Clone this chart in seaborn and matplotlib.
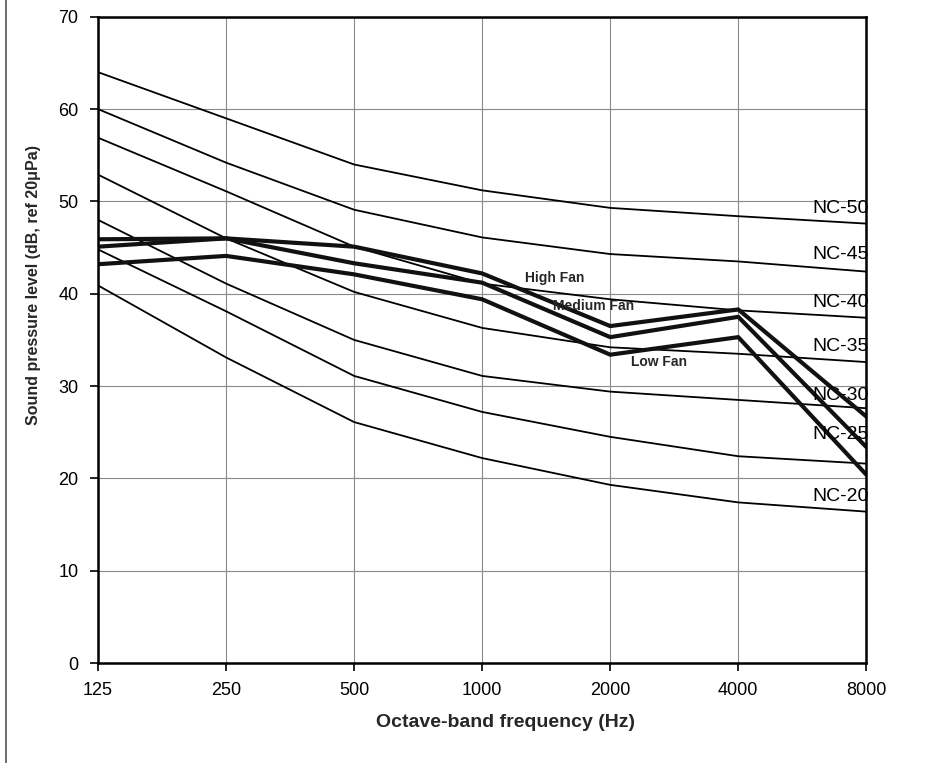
import numpy as np
import pandas as pd
import matplotlib
matplotlib.use("Agg")
import matplotlib.pyplot as plt
from matplotlib.lines import Line2D
import seaborn as sns

freqs = ["125", "250", "500", "1000", "2000", "4000", "8000"]

nc_50 = [64, 59, 54, 51.2, 49.3, 48.4, 47.6]
nc_45 = [60, 54.2, 49.1, 46.1, 44.3, 43.5, 42.4]
nc_40 = [56.9, 51.1, 45.1, 41.1, 39.4, 38.2, 37.4]
nc_35 = [52.9, 46, 40.2, 36.3, 34.2, 33.5, 32.6]
nc_30 = [48, 41.1, 35, 31.1, 29.4, 28.5, 27.6]
nc_25 = [44.8, 38.1, 31.1, 27.2, 24.5, 22.4, 21.6]
nc_20 = [40.9, 33.1, 26.1, 22.2, 19.3, 17.4, 16.4]

high_fan = [45.9, 46, 45.1, 42.2, 36.5, 38.3, 26.7]
medium_fan = [45.1, 46, 43.3, 41.2, 35.3, 37.5, 23.4]
low_fan = [43.2, 44.1, 42.1, 39.4, 33.4, 35.3, 20.4]

nc_curves = {"NC-50": nc_50, "NC-45": nc_45, "NC-40": nc_40, "NC-35": nc_35,
             "NC-30": nc_30, "NC-25": nc_25, "NC-20": nc_20}
fans = {"High Fan": high_fan, "Medium Fan": medium_fan, "Low Fan": low_fan}

sns.set_theme(style="whitegrid")
plt.rcParams['font.family'] = ['Liberation Sans', 'DejaVu Sans']

fig = plt.figure(figsize=(9.52, 7.63), dpi=100)
ax = fig.add_axes([0.103, 0.131, 0.807, 0.847])

x = np.arange(len(freqs))
for name, vals in nc_curves.items():
    sns.lineplot(x=x, y=vals, color="black", linewidth=1.3, ax=ax)
for name, vals in fans.items():
    sns.lineplot(x=x, y=vals, color="#111111", linewidth=3.0, ax=ax)

# curve labels at the right edge
nc_label_y = {"NC-50": 49.2, "NC-45": 44.2, "NC-40": 39.1, "NC-35": 34.3,
              "NC-30": 29.0, "NC-25": 24.8, "NC-20": 18.0}
for name, yy in nc_label_y.items():
    ax.text(6.02, yy, name, ha="right", va="center", fontsize=14, color="black")

ax.text(3.57, 41.7, "High Fan", ha="center", va="center", fontsize=10, fontweight="bold")
ax.text(3.87, 38.7, "Medium Fan", ha="center", va="center", fontsize=10, fontweight="bold")
ax.text(4.38, 32.6, "Low Fan", ha="center", va="center", fontsize=10, fontweight="bold")

ax.set_xlim(0, 6)
ax.set_ylim(0, 70)
ax.set_xticks(x)
ax.set_xticklabels(freqs)
ax.set_yticks(range(0, 71, 10))
ax.tick_params(axis="both", labelsize=13, colors="black", length=6, width=1.2,
               direction="out", left=True, bottom=True, pad=8)
ax.grid(True, color="#8a8a8a", linewidth=0.8)
ax.set_facecolor("white")
for side in ["left", "bottom", "top", "right"]:
    ax.spines[side].set_visible(True)
    ax.spines[side].set_color("black")
    ax.spines[side].set_linewidth(1.8)

ax.set_xlabel("Octave-band frequency (Hz)", fontsize=14, fontweight="bold")
ax.set_ylabel("Sound pressure level (dB, ref 20\u03bcPa)", fontsize=11.5, fontweight="bold")
ax.xaxis.set_label_coords(0.53, -0.079)
ax.yaxis.set_label_coords(-0.074, 0.585)

# scan border on the left
fig.add_artist(Line2D([0.006, 0.006], [0, 1], color="#555555", linewidth=1.2))

fig.savefig("out.png", dpi=100, facecolor="white")
